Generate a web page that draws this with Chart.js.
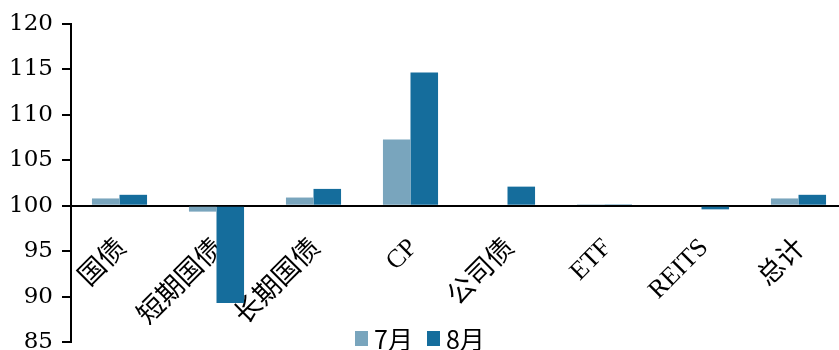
<!DOCTYPE html>
<html>
<head>
<meta charset="utf-8">
<script src="https://cdn.jsdelivr.net/npm/chart.js@4/dist/chart.umd.min.js"></script>
<style>
  html, body { margin: 0; padding: 0; background: #fff; overflow: hidden; }
  #wrap { position: relative; width: 839px; height: 350px; overflow: hidden; }
  #c { position: absolute; left: 0; top: 0; }
  #legend { position: absolute; left: 355px; top: 326px; display: flex; align-items: center; height: 24px;
            font-family: "Noto Sans CJK SC", "Noto Sans", sans-serif; font-size: 25px; line-height: 24px; color: #000; }
  #legend .item { display: flex; align-items: center; margin-right: 14px; }
  #legend .box { width: 13px; height: 15px; margin-right: 6px; }
</style>
</head>
<body>
<div id="wrap">
  <canvas id="c" width="850" height="370"></canvas>
  <div id="legend"></div>
</div>
<script>
// Index levels by asset class (100 = baseline)
const categories = ['国债', '短期国债', '长期国债', 'CP', '公司债', 'ETF', 'REITS', '总计'];
const seriesNames = ['7月', '8月'];
const julValues = [100.8, 99.35, 100.9, 107.3, null, 100.15, null, 100.8];
const augValues = [101.2, 89.3, 101.85, 114.65, 102.1, 100.15, 99.6, 101.2];
const yTicks = [85, 90, 95, 100, 105, 110, 115, 120];

const colors = ['#79a5bd', '#156d9c'];
const baseline = 100;
const labelFamily = '"Liberation Serif", "Noto Sans CJK SC", serif';
const isLatin = (s) => /^[A-Za-z]+$/.test(s);

const data = {
  labels: categories,
  datasets: [julValues, augValues].map((vals, i) => ({
    label: seriesNames[i],
    data: vals,
    base: baseline,
    backgroundColor: colors[i],
    borderWidth: 0,
    categoryPercentage: 0.568,
    barPercentage: 1.0
  }))
};

new Chart(document.getElementById('c'), {
  type: 'bar',
  data,
  options: {
    responsive: false,
    animation: false,
    devicePixelRatio: 1,
    layout: { padding: { left: 0, right: 3, top: 24, bottom: 28 } },
    plugins: { legend: { display: false }, tooltip: { enabled: false } },
    scales: {
      x: {
        position: { y: baseline },
        grid: { display: false },
        border: { display: true, color: '#000', width: 2 },
        ticks: {
          minRotation: 45, maxRotation: 45, autoSkip: false,
          padding: 19,
          labelOffset: 3,
          color: '#000',
          font: (ctx) => ({
            family: labelFamily,
            size: isLatin(categories[ctx.index] || '') ? 26 : 27
          })
        }
      },
      y: {
        min: yTicks[0], max: yTicks[yTicks.length - 1],
        afterBuildTicks: (axis) => { axis.ticks = yTicks.map(v => ({ value: v })); },
        afterFit: (axis) => { axis.width = 71; },
        grid: { drawOnChartArea: false, drawTicks: true, tickLength: 9, color: '#000', lineWidth: 2 },
        border: { display: true, color: '#000', width: 2 },
        ticks: {
          padding: 9,
          color: '#000',
          font: { family: '"DejaVu Serif", "Liberation Serif", serif', size: 23 }
        }
      }
    }
  }
});

// Legend built from the series names and colours
const legend = document.getElementById('legend');
seriesNames.forEach((name, i) => {
  const item = document.createElement('div');
  item.className = 'item';
  const box = document.createElement('span');
  box.className = 'box';
  box.style.background = colors[i];
  const txt = document.createElement('span');
  txt.textContent = name;
  item.appendChild(box);
  item.appendChild(txt);
  legend.appendChild(item);
});
</script>
</body>
</html>
